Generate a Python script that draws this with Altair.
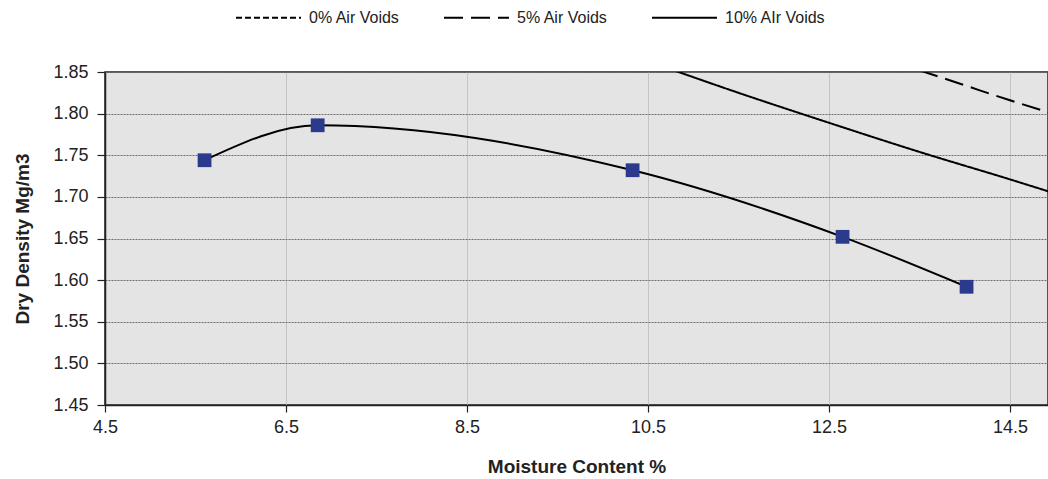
import altair as alt
import pandas as pd

# Measured points (moisture %, dry density)
moisture = [5.6, 6.85, 10.33, 12.65, 14.02]
density = [1.744, 1.786, 1.732, 1.652, 1.592]

# Air-voids lines
series_names = ["0% Air Voids", "5% Air Voids", "10% AIr Voids"]
av0_x = [13.5, 14.0, 14.5, 15.0]
av0_y = [1.949, 1.930, 1.912, 1.894]
av5_x = [13.5, 14.0, 14.5, 15.0]
av5_y = [1.852, 1.834, 1.816, 1.799]
av10_x = [10.5, 11.5, 12.5, 13.5, 14.5, 15.0]
av10_y = [1.863, 1.825, 1.789, 1.754, 1.721, 1.704]

x_ticks = [4.5, 6.5, 8.5, 10.5, 12.5, 14.5]
y_ticks = [1.45, 1.50, 1.55, 1.60, 1.65, 1.70, 1.75, 1.80, 1.85]

pts = pd.DataFrame({"w": moisture, "d": density})
av = pd.DataFrame(
    [{"w": x, "d": y, "series": series_names[0]} for x, y in zip(av0_x, av0_y)]
    + [{"w": x, "d": y, "series": series_names[1]} for x, y in zip(av5_x, av5_y)]
    + [{"w": x, "d": y, "series": series_names[2]} for x, y in zip(av10_x, av10_y)]
)

FONT = "Liberation Sans"
xs = alt.Scale(domain=[4.5, 14.92], nice=False, zero=False)
ys = alt.Scale(domain=[1.45, 1.85], nice=False, zero=False)

common_axis = dict(
    labelFont=FONT, labelFontSize=18, labelColor="#222", labelFlush=False,
    titleFont=FONT, titleFontSize=19, titleFontWeight="bold", titleColor="#222",
    domainColor="#222", domainWidth=1.5, tickColor="#222", tickWidth=1.2,
)

x_enc = alt.X("w:Q", scale=xs, axis=alt.Axis(
    values=x_ticks, format=".1f", title="Moisture Content %",
    grid=True, gridColor="#c4c4c4", gridWidth=1,
    tickSize=7, labelPadding=6, titlePadding=21, **common_axis))
y_enc = alt.Y("d:Q", scale=ys, axis=alt.Axis(
    values=y_ticks, format=".2f", title="Dry Density Mg/m3",
    grid=True, gridColor="#6e6e6e", gridDash=[2, 1], gridWidth=1,
    tickSize=8, labelPadding=9, titlePadding=20, **common_axis))

lines = alt.Chart(av).mark_line(color="black", strokeWidth=2, clip=True, interpolate="monotone").encode(
    x=x_enc, y=y_enc,
    strokeDash=alt.StrokeDash("series:N", scale=alt.Scale(
        domain=series_names, range=[[6, 3], [19, 8], [1, 0]]),
        legend=alt.Legend(title=None, orient="none", direction="horizontal", columns=3,
                          legendX=130, legendY=-88, symbolType="stroke", symbolSize=4225,
                          symbolStrokeColor="black", symbolStrokeWidth=2,
                          labelFont=FONT, labelFontSize=16, labelColor="#222",
                          labelOffset=7, columnPadding=30, gridAlign="all")),
    detail="series:N",
)

curve = alt.Chart(pts).mark_line(color="black", strokeWidth=2, interpolate="monotone", clip=True).encode(
    x="w:Q", y="d:Q")
squares = alt.Chart(pts).mark_square(color="#2b3a8c", size=190, opacity=1).encode(
    x="w:Q", y="d:Q")

chart = alt.layer(lines, curve, squares).properties(
    width=943, height=333,
    autosize=alt.AutoSizeParams(type="none"),
    padding={"left": 105, "top": 72, "right": 0, "bottom": 74},
    background="white",
).configure_view(
    fill="#e4e4e4", stroke="#222", strokeWidth=1.5
)

chart.save("out.html", embed_options={"renderer": "svg", "actions": False})
